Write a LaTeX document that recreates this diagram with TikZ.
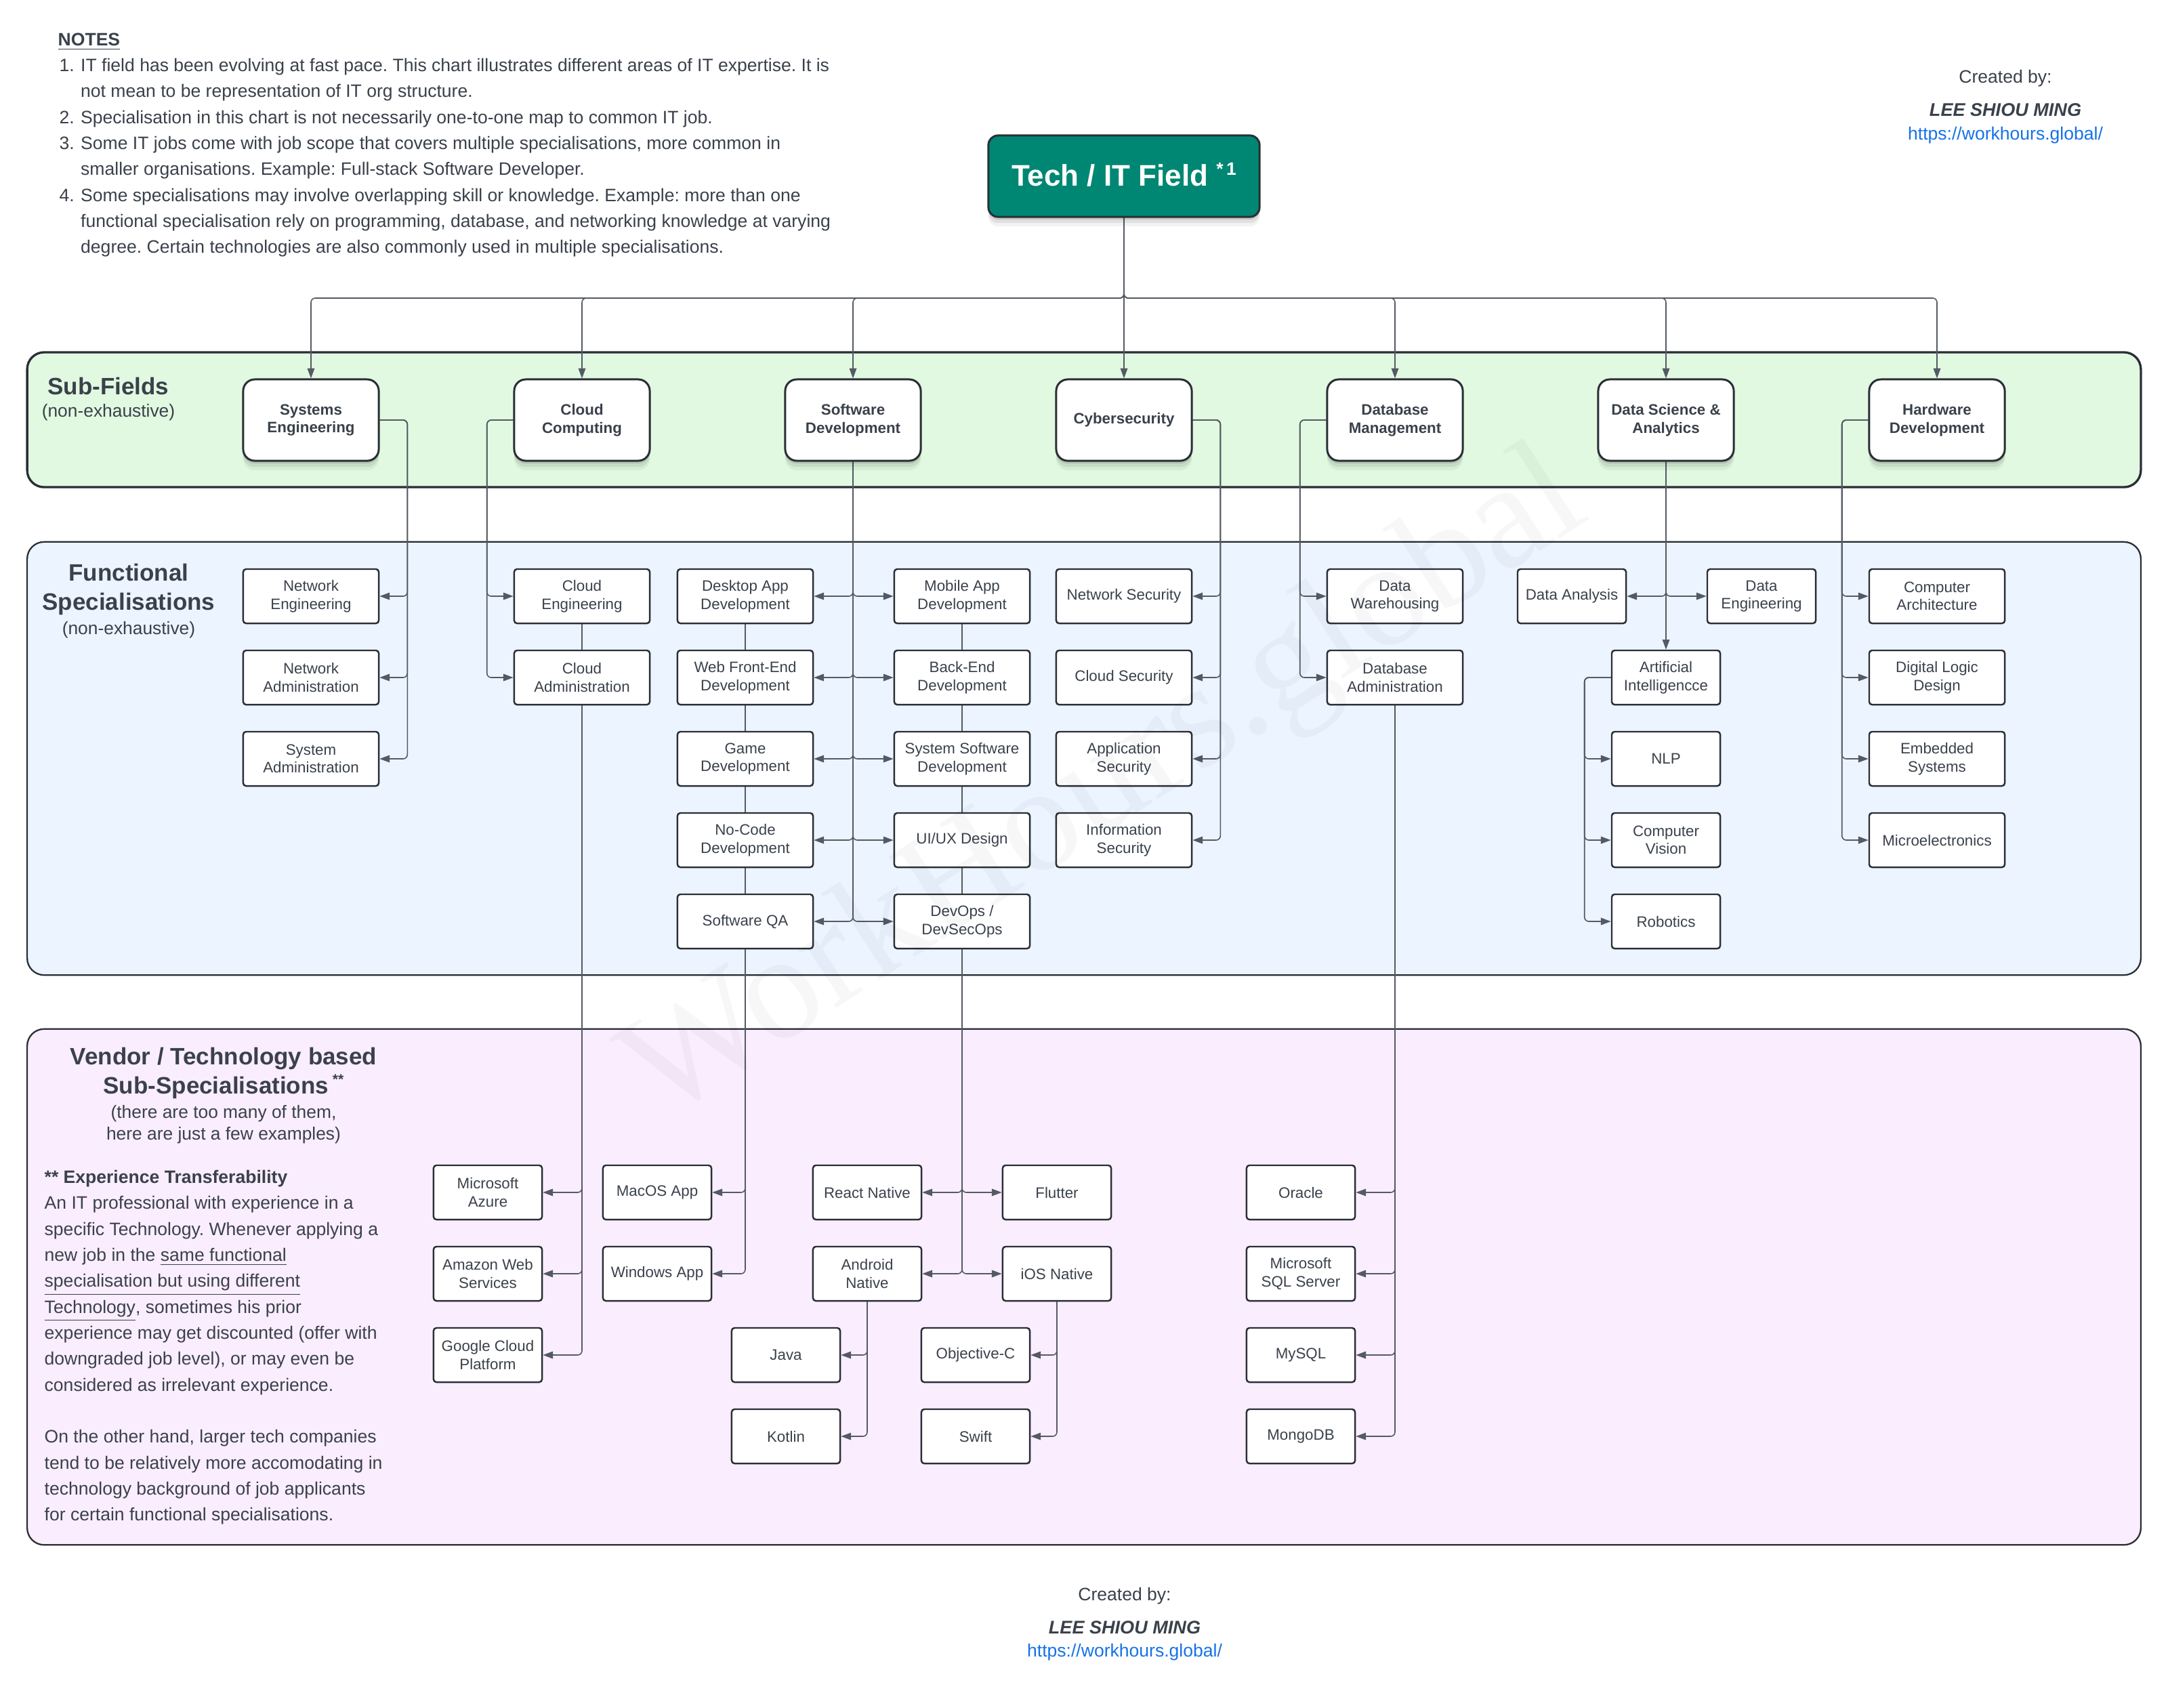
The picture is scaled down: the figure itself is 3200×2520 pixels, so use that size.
\documentclass[tikz,border=0pt]{standalone}
\usepackage{fontspec}
\setmainfont{Liberation Sans}
\newfontfamily\wmfont{Liberation Serif}
\usetikzlibrary{arrows.meta,shadows,calc}
\frenchspacing
\definecolor{txtc}{RGB}{58,65,75}
\definecolor{bordc}{RGB}{42,47,54}
\definecolor{linec}{RGB}{84,90,99}
\definecolor{greenbg}{RGB}{225,249,225}
\definecolor{bluebg}{RGB}{236,244,255}
\definecolor{pinkbg}{RGB}{250,237,254}
\definecolor{tealc}{RGB}{0,135,115}
\definecolor{urlc}{RGB}{22,114,232}
\newcommand\fbx{\fontsize{6.35}{7.55}\selectfont}
\newcommand\fnote{\fontsize{7.55}{10.9}\selectfont}
\newcommand\fsec{\fontsize{9.95}{12.2}\selectfont\bfseries}
\newcommand\fsmall{\fontsize{7.5}{9.1}\selectfont}
\newcommand\ftitle{\fontsize{12.5}{15}\selectfont\bfseries}
\newcommand\fsig{\fontsize{7.7}{9}\selectfont\bfseries\itshape}
\pgfdeclarelayer{panels}
\pgfdeclarelayer{lines}
\pgfsetlayers{panels,lines,main}
\tikzset{
  panel/.style={draw=bordc, rounded corners=0.25cm, inner sep=0pt, minimum width=31.18cm},
  softshadow/.style={
    drop shadow={shadow xshift=0pt, shadow yshift=-1.2pt, opacity=0.10, fill=black},
    drop shadow={shadow xshift=0pt, shadow yshift=-2.6pt, opacity=0.07, fill=black},
    drop shadow={shadow xshift=0pt, shadow yshift=-4pt, opacity=0.05, fill=black}},
  sfbox/.style={draw=bordc, line width=0.85pt, fill=white, rounded corners=0.17cm,
    minimum width=2cm, minimum height=1.2cm, inner sep=0pt, align=center,
    font=\fbx\bfseries, text=txtc, softshadow},
  rootbox/.style={draw=bordc, line width=0.85pt, fill=tealc, rounded corners=0.14cm,
    minimum width=4cm, minimum height=1.2cm, inner sep=0pt, align=center,
    font=\ftitle, text=white, softshadow},
  fbox/.style={draw=bordc, line width=0.7pt, fill=white, rounded corners=1.2pt,
    minimum width=2cm, minimum height=0.8cm, inner sep=0pt, align=center,
    font=\fbx, text=txtc},
  nbox/.style={fbox, minimum width=1.6cm},
  conn/.style={draw=linec, line width=0.45pt, rounded corners=1.8pt},
  arr/.style={conn, -{Triangle[length=4.2pt,width=3pt]}},
  lbl/.style={text=txtc, inner sep=0pt},
}
\begin{document}
\begin{tikzpicture}[x=0.01cm, y=-0.01cm]
\useasboundingbox (0,0) rectangle (3200,2520);
\begin{pgfonlayer}{panels}
\fill[white] (0,0) rectangle (3200,2520);
\node[panel, fill=greenbg, line width=0.95pt, minimum height=1.99cm] (psub) at (1600,619.5) {};
\node[panel, fill=bluebg, line width=0.65pt, minimum height=6.39cm] (pfun) at (1600,1119.5) {};
\node[panel, fill=pinkbg, line width=0.65pt, minimum height=7.61cm] (pven) at (1600,1899.5) {};
\end{pgfonlayer}

% notes
\node[lbl, font=\fnote, align=left, anchor=north west] (notes) at (85,39.5) {%
\strut\underline{\textbf{NOTES}}\\
\hspace*{0.02cm}\makebox[0.315cm][l]{1.}IT field has been evolving at fast pace. This chart illustrates different areas of IT expertise. It is\\
\hspace*{0.335cm}not mean to be representation of IT org structure.\\
\hspace*{0.02cm}\makebox[0.315cm][l]{2.}Specialisation in this chart is not necessarily one-to-one map to common IT job.\\
\hspace*{0.02cm}\makebox[0.315cm][l]{3.}Some IT jobs come with job scope that covers multiple specialisations, more common in\\
\hspace*{0.335cm}smaller organisations. Example: Full-stack Software Developer.\\
\hspace*{0.02cm}\makebox[0.315cm][l]{4.}Some specialisations may involve overlapping skill or knowledge. Example: more than one\\
\hspace*{0.335cm}functional specialisation rely on programming, database, and networking knowledge at varying\\
\hspace*{0.335cm}degree. Certain technologies are also commonly used in multiple specialisations.};

% credits
\node[lbl, font=\fnote] (cr1) at (2960,116) {Created by:};
\node[lbl, font=\fsig] (cr2) at (2960,162) {LEE SHIOU MING};
\node[lbl, font=\fnote, text=urlc] (cr3) at (2960,200) {https://workhours.global/};
\node[lbl, font=\fnote] (cb1) at (1660,2356) {Created by:};
\node[lbl, font=\fsig] (cb2) at (1660,2402) {LEE SHIOU MING};
\node[lbl, font=\fnote, text=urlc] (cb3) at (1660,2439) {https://workhours.global/};

% root
\node[rootbox] (root) at (1659,260) {\raisebox{1.5pt}{Tech / IT Field {\fontsize{7.5}{9}\selectfont\raisebox{4.5pt}{*\,1}}}};

% section labels
\node[lbl, font=\fsec] (lsub) at (160,570) {Sub-Fields};
\node[lbl, font=\fsmall] (lsubn) at (160,609) {(non-exhaustive)};
\node[lbl, font=\fsec, align=center] (lfun) at (190,870) {Functional\\Specialisations};
\node[lbl, font=\fsmall] (lfunn) at (190,930) {(non-exhaustive)};
\node[lbl, font=\fsec, align=center] (lven) at (330,1584) {Vendor / Technology based\\Sub-Specialisations{\fontsize{6}{7}\selectfont\raisebox{4pt}{ **}}};
\node[lbl, font=\fsmall, align=center] (lvenn) at (330,1660) {(there are too many of them,\\here are just a few examples)};

\node[lbl, font=\fnote, align=left, anchor=north west] (para) at (65,1719) {%
\strut\textbf{** Experience Transferability}\\
An IT professional with experience in a\\
specific Technology. Whenever applying a\\
new job in the \underline{same functional}\\
\underline{specialisation but using different}\\
\underline{Technology}, sometimes his prior\\
experience may get discounted (offer with\\
downgraded job level), or may even be\\
considered as irrelevant experience.\\
\strut\\
On the other hand, larger tech companies\\
tend to be relatively more accomodating in\\
technology background of job applicants\\
for certain functional specialisations.};

% sub-fields
\node[sfbox] (se) at (459,620) {Systems\\Engineering};
\node[sfbox] (cc) at (859,620) {Cloud\\Computing};
\node[sfbox] (sd) at (1259,620) {Software\\Development};
\node[sfbox] (cy) at (1659,620) {Cybersecurity};
\node[sfbox] (dm) at (2059,620) {Database\\Management};
\node[sfbox] (ds) at (2459,620) {Data Science \&\\Analytics};
\node[sfbox] (hw) at (2859,620) {Hardware\\Development};

% functional
\node[fbox] (fne) at (459,880) {Network\\Engineering};
\node[fbox] (fna) at (459,1000) {Network\\Administration};
\node[fbox] (fsa) at (459,1120) {System\\Administration};
\node[fbox] (fce) at (859,880) {Cloud\\Engineering};
\node[fbox] (fcad) at (859,1000) {Cloud\\Administration};
\node[fbox] (fdesk) at (1100,880) {Desktop App\\Development};
\node[fbox] (fweb) at (1100,1000) {Web Front-End\\Development};
\node[fbox] (fgame) at (1100,1120) {Game\\Development};
\node[fbox] (fnoc) at (1100,1240) {No-Code\\Development};
\node[fbox] (fqa) at (1100,1360) {Software QA};
\node[fbox] (fmob) at (1420,880) {Mobile App\\Development};
\node[fbox] (fback) at (1420,1000) {Back-End\\Development};
\node[fbox] (fsys) at (1420,1120) {System Software\\Development};
\node[fbox] (fui) at (1420,1240) {UI/UX Design};
\node[fbox] (fdev) at (1420,1360) {DevOps /\\DevSecOps};
\node[fbox] (fns) at (1659,880) {Network Security};
\node[fbox] (fcs) at (1659,1000) {Cloud Security};
\node[fbox] (fas) at (1659,1120) {Application\\Security};
\node[fbox] (fis) at (1659,1240) {Information\\Security};
\node[fbox] (fdw) at (2059,880) {Data\\Warehousing};
\node[fbox] (fdba) at (2059,1000) {Database\\Administration};
\node[nbox] (fda) at (2320,880) {Data Analysis};
\node[nbox] (fde) at (2600,880) {Data\\Engineering};
\node[nbox] (fai) at (2459,1000) {Artificial\\Intelligencce};
\node[nbox] (fnlp) at (2459,1120) {NLP};
\node[nbox] (fcv) at (2459,1240) {Computer\\Vision};
\node[nbox] (frob) at (2459,1360) {Robotics};
\node[fbox] (fcarch) at (2859,880) {Computer\\Architecture};
\node[fbox] (fdld) at (2859,1000) {Digital Logic\\Design};
\node[fbox] (femb) at (2859,1120) {Embedded\\Systems};
\node[fbox] (fmicro) at (2859,1240) {Microelectronics};

% vendors
\node[nbox] (vaz) at (720,1760) {Microsoft\\Azure};
\node[nbox] (vaws) at (720,1880) {Amazon Web\\Services};
\node[nbox] (vgcp) at (720,2000) {Google Cloud\\Platform};
\node[nbox] (vmac) at (970,1760) {MacOS App};
\node[nbox] (vwin) at (970,1880) {Windows App};
\node[nbox] (vrn) at (1280,1760) {React Native};
\node[nbox] (vand) at (1280,1880) {Android\\Native};
\node[nbox] (vflu) at (1560,1760) {Flutter};
\node[nbox] (vios) at (1560,1880) {iOS Native};
\node[nbox] (vjava) at (1160,2000) {Java};
\node[nbox] (vkot) at (1160,2120) {Kotlin};
\node[nbox] (vobjc) at (1440,2000) {Objective-C};
\node[nbox] (vswift) at (1440,2120) {Swift};
\node[nbox] (vora) at (1920,1760) {Oracle};
\node[nbox] (vmss) at (1920,1880) {Microsoft\\SQL Server};
\node[nbox] (vmys) at (1920,2000) {MySQL};
\node[nbox] (vmon) at (1920,2120) {MongoDB};

% connectors
\begin{pgfonlayer}{lines}
\coordinate (busy) at (0,440);
\foreach \t in {se,cc,sd,dm,ds,hw} \draw[arr] (root.south) -- (root.south |- busy) -| (\t.north);
\draw[arr] (root.south) -- (cy.north);
\foreach \t in {fne,fna,fsa} \draw[arr] (se.east) -| ($(\t.east)+(41,0)$) -- (\t.east);
\foreach \t in {fce,fcad} \draw[arr] (cc.west) -| ($(\t.west)+(-39,0)$) -- (\t.west);
\foreach \t in {fdesk,fweb,fgame,fnoc,fqa} \draw[arr] (sd.south) |- (\t.east);
\foreach \t in {fmob,fback,fsys,fui,fdev} \draw[arr] (sd.south) |- (\t.west);
\foreach \t in {fns,fcs,fas,fis} \draw[arr] (cy.east) -| ($(\t.east)+(41,0)$) -- (\t.east);
\foreach \t in {fdw,fdba} \draw[arr] (dm.west) -| ($(\t.west)+(-39,0)$) -- (\t.west);
\draw[arr] (ds.south) -- (fai.north);
\draw[arr] (ds.south) |- (fda.east);
\draw[arr] (ds.south) |- (fde.west);
\foreach \t in {fnlp,fcv,frob} \draw[arr] (fai.west) -| ($(\t.west)+(-39,0)$) -- (\t.west);
\foreach \t in {fcarch,fdld,femb,fmicro} \draw[arr] (hw.west) -| ($(\t.west)+(-39,0)$) -- (\t.west);
\draw[conn] (fce.south) -- (fcad.north);
\draw[conn] (fdesk.south) -- (fqa.north);
\draw[conn] (fmob.south) -- (fdev.north);
\foreach \t in {vaz,vaws,vgcp} \draw[arr] (fcad.south) |- (\t.east);
\foreach \t in {vmac,vwin} \draw[arr] (fqa.south) |- (\t.east);
\foreach \t in {vrn,vand} \draw[arr] (fdev.south) |- (\t.east);
\foreach \t in {vflu,vios} \draw[arr] (fdev.south) |- (\t.west);
\foreach \t in {vjava,vkot} \draw[arr] (vand.south) |- (\t.east);
\foreach \t in {vobjc,vswift} \draw[arr] (vios.south) |- (\t.east);
\foreach \t in {vora,vmss,vmys,vmon} \draw[arr] (fdba.south) |- (\t.east);
\end{pgfonlayer}

% watermark
\node[text=black, text opacity=0.03, font=\wmfont\fontsize{63}{70}\selectfont, rotate=33, inner sep=0pt] (wm) at (1635,1165) {WorkHours.global};
\end{tikzpicture}
\end{document}
